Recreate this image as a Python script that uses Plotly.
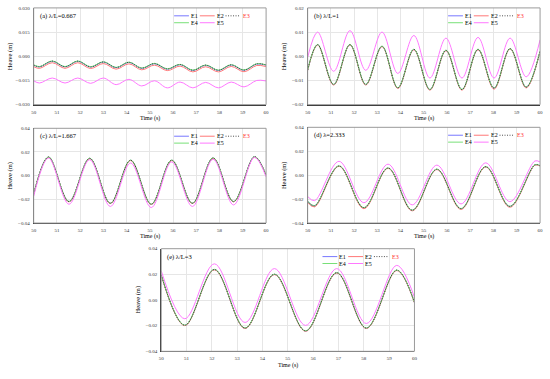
import plotly.graph_objects as go

# ---------------- data ----------------
series_names = ["E1", "E2", "E3", "E4", "E5"]

# (a) lambda/L = 0.667
time_a = [50.0, 50.25, 50.8, 51.35, 51.9, 52.45, 53.0, 53.55, 54.1, 54.65, 55.2,
          55.75, 56.3, 56.85, 57.4, 57.95, 58.5, 59.05, 59.6, 60.0]
e1_a = [-0.0055, -0.0066, -0.0031, -0.0066, -0.0031, -0.0067, -0.0036, -0.0071, -0.0038, -0.0075,
        -0.0046, -0.0080, -0.0052, -0.0088, -0.0056, -0.0088, -0.0054, -0.0087, -0.0048, -0.0055]
e2_a = [-0.0064, -0.0075, -0.0040, -0.0075, -0.0040, -0.0076, -0.0045, -0.0080, -0.0047, -0.0084,
        -0.0055, -0.0089, -0.0061, -0.0097, -0.0065, -0.0097, -0.0063, -0.0096, -0.0057, -0.0064]
e3_a = [-0.0054, -0.0065, -0.0030, -0.0065, -0.0030, -0.0066, -0.0035, -0.0070, -0.0037, -0.0074,
        -0.0045, -0.0079, -0.0051, -0.0087, -0.0055, -0.0087, -0.0053, -0.0086, -0.0047, -0.0054]
e4_a = [-0.0053, -0.0064, -0.0029, -0.0064, -0.0029, -0.0065, -0.0034, -0.0069, -0.0036, -0.0073,
        -0.0044, -0.0078, -0.0050, -0.0086, -0.0054, -0.0086, -0.0052, -0.0085, -0.0046, -0.0053]
e5_a = [-0.0152, -0.0166, -0.0135, -0.0166, -0.0135, -0.0168, -0.0135, -0.0176, -0.0143, -0.0184,
        -0.0152, -0.0196, -0.0160, -0.0196, -0.0162, -0.0196, -0.0160, -0.0190, -0.0150, -0.0153]

# (b) lambda/L = 1
time_b = [50.0, 50.43, 51.12, 51.82, 52.5, 53.2, 53.88, 54.57, 55.26, 55.95, 56.64,
          57.33, 58.02, 58.71, 59.4, 60.0]
e1_b = [-0.0058, 0.0048, -0.0117, 0.0048, -0.0117, 0.0041, -0.0131, 0.0028, -0.0138, 0.0024,
        -0.0138, 0.0028, -0.0132, 0.0031, -0.0128, 0.0021]
e2_b = [-0.0059, 0.0047, -0.0119, 0.0047, -0.0119, 0.0040, -0.0133, 0.0027, -0.0140, 0.0023,
        -0.0140, 0.0027, -0.0136, 0.0030, -0.0131, 0.0020]
e3_b = [-0.0057, 0.0048, -0.0117, 0.0048, -0.0117, 0.0041, -0.0131, 0.0029, -0.0138, 0.0025,
        -0.0138, 0.0029, -0.0132, 0.0032, -0.0128, 0.0022]
e4_b = [-0.0057, 0.0049, -0.0116, 0.0049, -0.0116, 0.0042, -0.0130, 0.0029, -0.0137, 0.0025,
        -0.0137, 0.0029, -0.0131, 0.0032, -0.0127, 0.0022]
e5_b = [-0.0005, 0.0100, -0.0062, 0.0106, -0.0058, 0.0100, -0.0071, 0.0086, -0.0090, 0.0075,
        -0.0090, 0.0078, -0.0090, 0.0075, -0.0085, 0.0068]

# (c) lambda/L = 1.667
time_c = [50.0, 50.64, 51.52, 52.41, 53.3, 54.17, 55.06, 55.94, 56.83, 57.72, 58.6, 59.5, 60.0]
e1_c = [-0.0157, 0.0157, -0.0219, 0.0146, -0.0233, 0.0130, -0.0241, 0.0130, -0.0233, 0.0149,
        -0.0219, 0.0160, 0.0004]
e2_c = [-0.0158, 0.0155, -0.0221, 0.0144, -0.0235, 0.0128, -0.0243, 0.0128, -0.0235, 0.0147,
        -0.0221, 0.0158, 0.0002]
e3_c = [-0.0156, 0.0158, -0.0219, 0.0147, -0.0233, 0.0131, -0.0241, 0.0131, -0.0233, 0.0150,
        -0.0219, 0.0161, 0.0005]
e4_c = [-0.0155, 0.0159, -0.0218, 0.0148, -0.0232, 0.0132, -0.0240, 0.0132, -0.0232, 0.0151,
        -0.0218, 0.0162, 0.0006]
e5_c = [-0.0175, 0.0149, -0.0241, 0.0135, -0.0260, 0.0107, -0.0269, 0.0116, -0.0260, 0.0138,
        -0.0247, 0.0155, -0.0010]

# (d) lambda = 2.333
time_d = [50.0, 50.3, 51.35, 52.42, 53.46, 54.5, 55.56, 56.6, 57.66, 58.7, 59.78, 60.0]
e1_d = [-0.0220, -0.0257, 0.0076, -0.0273, 0.0059, -0.0294, 0.0049, -0.0281, 0.0070, -0.0262,
        0.0086, 0.0078]
e2_d = [-0.0228, -0.0265, 0.0074, -0.0280, 0.0057, -0.0298, 0.0047, -0.0286, 0.0068, -0.0268,
        0.0084, 0.0076]
e3_d = [-0.0219, -0.0256, 0.0077, -0.0272, 0.0060, -0.0293, 0.0050, -0.0280, 0.0071, -0.0261,
        0.0087, 0.0079]
e4_d = [-0.0218, -0.0255, 0.0078, -0.0271, 0.0061, -0.0292, 0.0051, -0.0279, 0.0072, -0.0260,
        0.0088, 0.0080]
e5_d = [-0.0178, -0.0213, 0.0116, -0.0230, 0.0092, -0.0248, 0.0084, -0.0240, 0.0103, -0.0221,
        0.0119, 0.0110]

# (e) lambda/L = 3
time_e = [50.0, 50.93, 52.1, 53.31, 54.47, 55.7, 56.93, 58.1, 59.3, 60.0]
e1_e = [0.0195, -0.0198, 0.0237, -0.0220, 0.0200, -0.0242, 0.0212, -0.0220, 0.0232, -0.0020]
e2_e = [0.0193, -0.0200, 0.0235, -0.0222, 0.0198, -0.0244, 0.0210, -0.0222, 0.0230, -0.0022]
e3_e = [0.0196, -0.0197, 0.0238, -0.0219, 0.0201, -0.0241, 0.0213, -0.0219, 0.0233, -0.0019]
e4_e = [0.0197, -0.0196, 0.0239, -0.0218, 0.0202, -0.0240, 0.0214, -0.0218, 0.0234, -0.0018]
e5_e = [0.0227, -0.0146, 0.0282, -0.0175, 0.0245, -0.0198, 0.0245, -0.0183, 0.0270, 0.0020]

panel_labels = ["(a) λ/L=0.667", "(b) λ/L=1", "(c) λ/L=1.667", "(d) λ=2.333", "(e) λ/L=3"]
y_ranges = [[-0.03, 0.03], [-0.02, 0.02], [-0.04, 0.04], [-0.04, 0.04], [-0.04, 0.04]]
y_dticks = [0.015, 0.01, 0.02, 0.02, 0.02]
y_formats = [".3f", ".2f", ".2f", ".2f", ".2f"]
x_range = [50, 60]
x_title = "Time (s)"
y_title = "Heave (m)"

panel_data = [
    (time_a, [e1_a, e2_a, e3_a, e4_a, e5_a]),
    (time_b, [e1_b, e2_b, e3_b, e4_b, e5_b]),
    (time_c, [e1_c, e2_c, e3_c, e4_c, e5_c]),
    (time_d, [e1_d, e2_d, e3_d, e4_d, e5_d]),
    (time_e, [e1_e, e2_e, e3_e, e4_e, e5_e]),
]

# ---------------- layout / style ----------------
W, H = 550, 379
# plot-area boxes in pixels: left, right, top, bottom
boxes = [(31, 266, 6, 104), (308, 543, 6, 104), (31, 266, 128, 224),
         (308, 543, 127, 224), (160, 416, 250, 354)]
colors = ["#7878ff", "#ff7878", "#222222", "#78e078", "#ff78ff"]
dashes = ["solid", "solid", "1px,1.5px", "solid", "solid"]
widths = [1, 1, 0.8, 1, 1]
draw_order = [0, 1, 3, 2, 4]
FONT = "Liberation Serif"


def fx(px):
    return px / W


def fy(py):
    return 1 - py / H


fig = go.Figure()
shapes = []
annotations = []
layout_axes = {}

for i, ((t, ys), box) in enumerate(zip(panel_data, boxes)):
    k = "" if i == 0 else str(i + 1)
    xa, ya = "x" + k, "y" + k
    L, R, T, B = box
    for j in draw_order:
        fig.add_trace(go.Scatter(
            x=t, y=ys[j], xaxis=xa, yaxis=ya, mode="lines", name=series_names[j],
            showlegend=False,
            line=dict(color=colors[j], width=widths[j], dash=dashes[j], shape="spline"),
        ))
    layout_axes["xaxis" + k] = dict(
        domain=[fx(L), fx(R)], anchor=ya, range=x_range, dtick=1, tick0=50,
        showgrid=True, gridcolor="#e6e6e6", gridwidth=1, zeroline=False,
        showline=True, linecolor="#333333", linewidth=1, ticks="",
        ticklabeloverflow="allow",
        tickfont=dict(family=FONT, size=5, color="#333333"), ticklabelstandoff=2,
    )
    layout_axes["yaxis" + k] = dict(
        domain=[fy(B), fy(T)], anchor=xa, range=y_ranges[i], dtick=y_dticks[i],
        tickformat=y_formats[i], showgrid=True, gridcolor="#e6e6e6", gridwidth=1,
        zeroline=False, showline=True, linecolor="#333333", linewidth=1, ticks="",
        ticklabeloverflow="allow",
        tickfont=dict(family=FONT, size=5, color="#333333"), ticklabelstandoff=2,
    )
    # light frame on top/right
    shapes.append(dict(type="rect", xref="paper", yref="paper", x0=fx(L), x1=fx(R),
                       y0=fy(B), y1=fy(T), line=dict(color="#9a9a9a", width=1), layer="above"))
    # panel label
    annotations.append(dict(text=panel_labels[i], xref="paper", yref="paper",
                            x=fx(L + 5), y=fy(T + 8), xanchor="left", yanchor="middle",
                            showarrow=False, borderpad=0,
                            font=dict(family=FONT, size=6.5, color="#000")))
    # axis titles
    annotations.append(dict(text=x_title, xref="paper", yref="paper",
                            x=fx((L + R) / 2), y=fy(B + 14), xanchor="center", yanchor="middle",
                            showarrow=False, font=dict(family=FONT, size=6, color="#000")))
    annotations.append(dict(text=y_title, xref="paper", yref="paper", textangle=-90,
                            x=fx(L - 24), y=fy((T + B) / 2), xanchor="center", yanchor="middle",
                            showarrow=False, font=dict(family=FONT, size=6.5, color="#000")))
    # legend (2 rows x 3 columns)
    col_line = [-93, -67, -41]
    col_text = [-77, -51, -24]
    rows = [T + 8, T + 15]
    for j, name in enumerate(series_names):
        r, c = divmod(j, 3)
        y0 = rows[r]
        shapes.append(dict(type="line", xref="paper", yref="paper",
                           x0=fx(R + col_line[c]), x1=fx(R + col_line[c] + 15),
                           y0=fy(y0), y1=fy(y0),
                           line=dict(color=colors[j], width=widths[j], dash=dashes[j])))
        annotations.append(dict(text=name, xref="paper", yref="paper",
                                x=fx(R + col_text[c]), y=fy(y0), xanchor="left", yanchor="middle",
                                showarrow=False, borderpad=0,
                                font=dict(family=FONT, size=6,
                                          color="#ff3030" if name == "E3" else "#000")))

fig.update_layout(
    width=W, height=H, margin=dict(l=0, r=0, t=0, b=0),
    paper_bgcolor="white", plot_bgcolor="white",
    showlegend=False, shapes=shapes, annotations=annotations,
    font=dict(family=FONT), hovermode=False,
    **layout_axes,
)

fig.write_html("out.html", config={"displayModeBar": False, "staticPlot": True},
               post_script="document.body.style.margin='0';document.body.style.overflow='hidden';")
